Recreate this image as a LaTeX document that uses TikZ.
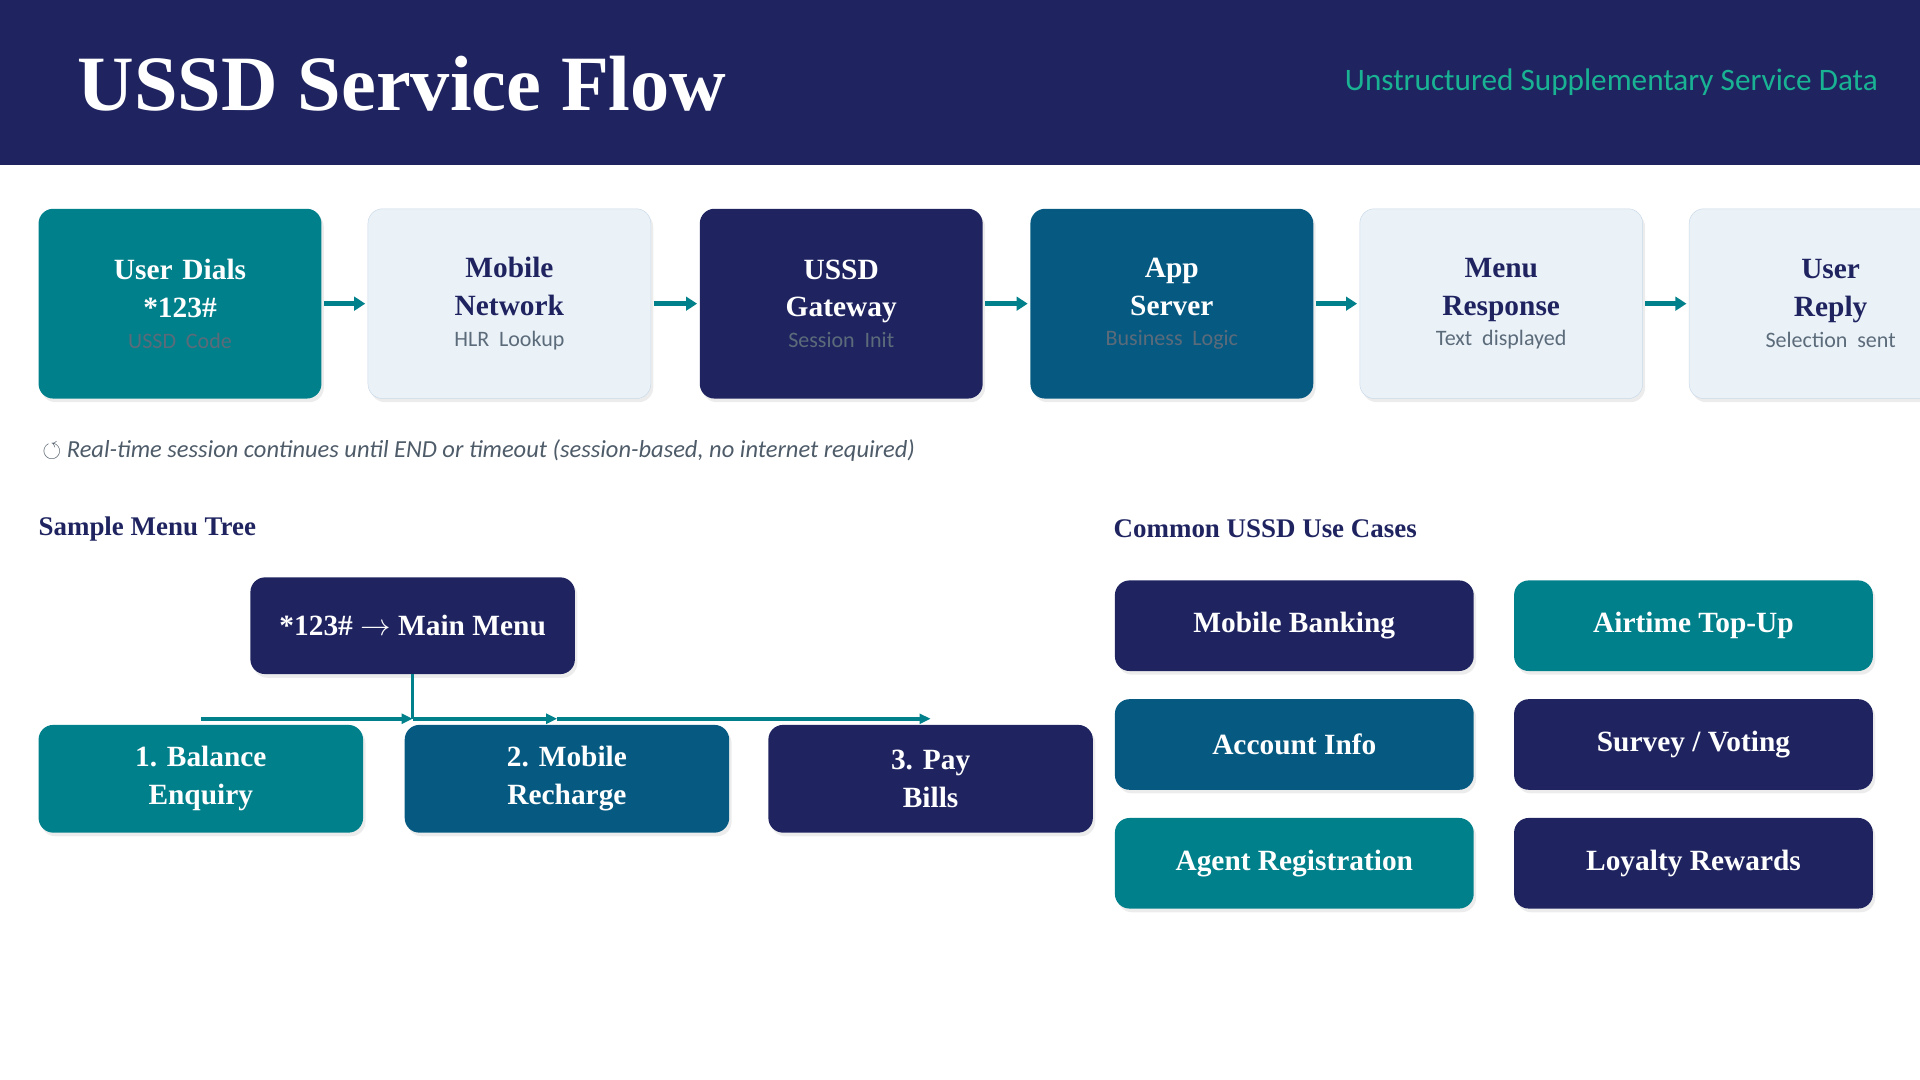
\documentclass[tikz,border=0pt]{standalone}
\usepackage{amssymb}
\usepackage{fontspec}
\setmainfont{Liberation Serif}
\setsansfont{Carlito}
\usepackage{tikz}
\usetikzlibrary{positioning,arrows.meta,shadows}
\definecolor{navy}{HTML}{1F2460}
\definecolor{teal}{HTML}{00808A}
\definecolor{sea}{HTML}{065A82}
\definecolor{pale}{HTML}{EAF2F8}
\definecolor{paleline}{HTML}{C9D9E8}
\definecolor{mint}{HTML}{19B394}
\definecolor{subgrey}{HTML}{5C6B7A}
\tikzset{
  stage/.style={rounded corners=12pt, minimum width=231pt, minimum height=155pt,
    text width=220pt, align=center, font=\bfseries\fontsize{24}{31}\selectfont,
    drop shadow={opacity=.15,shadow xshift=2pt,shadow yshift=-3pt}},
  tile/.style={rounded corners=12pt, text=white, align=center,
    font=\bfseries\fontsize{24}{31}\selectfont,
    drop shadow={opacity=.15,shadow xshift=2pt,shadow yshift=-3pt}},
  flow/.style={-{Triangle[length=9pt,width=11pt]}, line width=4pt, teal},
  tree/.style={-{Triangle[length=9pt,width=8pt]}, line width=3pt, teal},
}
\newcommand{\subtxt}[1]{\mbox{\sffamily\mdseries\fontsize{18}{22}\selectfont\color{subgrey}#1}}
\begin{document}
\begin{tikzpicture}[x=1pt,y=-1pt]
  \useasboundingbox (0,0) rectangle (1568,882);
  % header band
  \fill[navy] (0,0) rectangle (1568,135);
  \node[anchor=west, text=white, font=\bfseries\fontsize{64}{66}\selectfont] (title) at (60,68) {USSD Service Flow};
  \node[anchor=east, text=mint, font=\sffamily\fontsize{25.5}{28}\selectfont] (subtitle) at (1537,67) {Unstructured Supplementary Service Data};

  % session flow
  \node[stage, fill=teal, text=white] (dial) at (147,248) {User Dials\\{}*123\#\\[-6pt]\subtxt{USSD Code}};
  \node[stage, fill=pale, draw=paleline, text=navy] (net) at (416,248) {Mobile\\Network\\[-6pt]\subtxt{HLR Lookup}};
  \node[stage, fill=navy, text=white] (gw) at (687,248) {USSD\\Gateway\\[-6pt]\subtxt{Session Init}};
  \node[stage, fill=sea, text=white] (app) at (957,248) {App\\Server\\[-6pt]\subtxt{Business Logic}};
  \node[stage, fill=pale, draw=paleline, text=navy] (menu) at (1226,248) {Menu\\Response\\[-6pt]\subtxt{Text displayed}};
  \node[stage, fill=pale, draw=paleline, text=navy] (reply) at (1495,248) {User\\Reply\\[-6pt]\subtxt{Selection sent}};
  \foreach \a/\b in {dial/net, net/gw, gw/app, app/menu, menu/reply}
    \draw[flow] ([xshift=2pt]\a.east) -- ([xshift=-2pt]\b.west);

  \node[anchor=west, text=subgrey!85!black, font=\sffamily\itshape\fontsize{20}{22}\selectfont] (note) at (31,368)
    {$\circlearrowleft$ Real-time session continues until END or timeout (session-based, no internet required)};

  % menu tree
  \node[anchor=west, text=navy, font=\bfseries\fontsize{22}{26}\selectfont] (treehead) at (28,432) {Sample Menu Tree};
  \node[tile, fill=navy, minimum width=265pt, minimum height=79pt] (main) at (337,511) {*123\# $\rightarrow$ Main Menu};
  \node[tile, fill=teal, minimum width=265pt, minimum height=88pt] (opt1) at (164,636) {1. Balance\\Enquiry};
  \node[tile, fill=sea, minimum width=265pt, minimum height=88pt] (opt2) at (463,636) {2. Mobile\\Recharge};
  \node[tile, fill=navy, minimum width=265pt, minimum height=88pt] (opt3) at (760,636) {3. Pay\\Bills};
  \coordinate (j) at (main.south |- 0,587);
  \coordinate (b1) at (opt1.north |- j);
  \coordinate (b2) at ([xshift=-8pt]opt2.north |- j);
  \coordinate (b3) at (opt3.north |- j);
  \draw[teal, line width=3pt] (main.south) -- (j);
  \draw[tree] (b1) -- (j);
  \draw[tree] (j) -- (b2);
  \draw[tree] (b2) -- (b3);

  % use cases
  \node[anchor=west, text=navy, font=\bfseries\fontsize{22}{26}\selectfont] (usehead) at (906,432) {Common USSD Use Cases};
  \foreach \name/\col/\x/\y/\txt in {
      bank/navy/1057/511/Mobile Banking,
      topup/teal/1383/511/Airtime Top-Up,
      acct/sea/1057/608/Account Info,
      vote/navy/1383/608/{Survey / Voting},
      agent/teal/1057/705/Agent Registration,
      loyal/navy/1383/705/Loyalty Rewards}
    \node[tile, fill=\col, minimum width=293pt, minimum height=74pt] (\name) at (\x,\y) {\txt};
\end{tikzpicture}
\end{document}
